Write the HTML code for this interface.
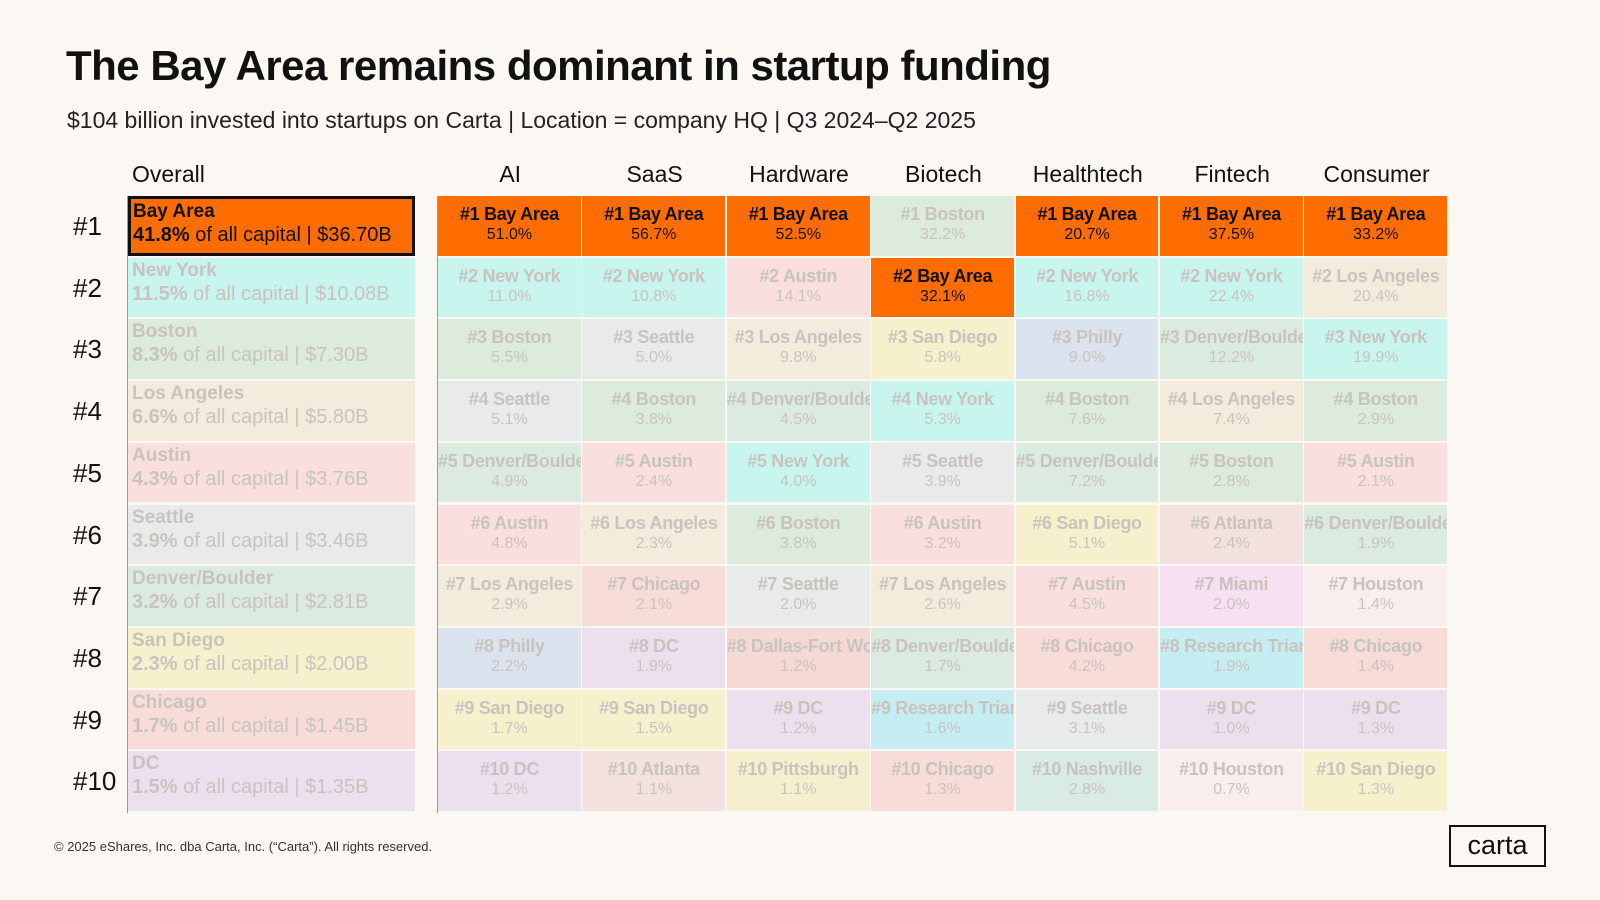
<!DOCTYPE html>
<html><head><meta charset="utf-8">
<style>
body{margin:0;width:1600px;height:900px;background:#fbf8f4;font-family:"Liberation Sans",sans-serif;overflow:hidden;position:relative}
.abs{position:absolute}
.cell{position:absolute;box-sizing:border-box;text-align:center;color:#c9c3bf;overflow:hidden;white-space:nowrap}
.cell .n{font-weight:bold;font-size:18px;margin-top:8px;letter-spacing:-0.3px}
.cell .v{font-size:16px;margin-top:1px}
.ov{position:absolute;box-sizing:border-box;color:#c9c3bf;padding-left:4px;white-space:nowrap}
.ov .n{font-weight:bold;font-size:19px;line-height:22px;margin-top:2px}
.ov .v{font-size:20px;line-height:24px}
.hdr{position:absolute;font-size:23px;text-align:center;color:#111}
.rk{position:absolute;font-size:26px;color:#111;left:73px}
</style></head><body>
<div class="abs" style="left:66px;top:42px;font-size:42px;font-weight:bold;color:#111;letter-spacing:-0.5px">The Bay Area remains dominant in startup funding</div>
<div class="abs" style="left:67px;top:107px;font-size:23px;color:#222">$104 billion invested into startups on Carta | Location = company HQ | Q3 2024–Q2 2025</div>
<div class="abs" style="left:54px;top:839px;font-size:13px;color:#333">© 2025 eShares, Inc. dba Carta, Inc. (“Carta”). All rights reserved.</div>
<div class="abs" style="left:1449px;top:825px;width:97px;height:42px;box-sizing:border-box;border:2px solid #111;font-size:27px;text-align:center;line-height:36px;color:#111">carta</div>
<div class="abs" style="left:127px;top:196px;width:1px;height:617px;background:#999"></div>
<div class="abs" style="left:437px;top:196px;width:1px;height:617px;background:#999"></div>
<div id="g"></div>
<script>
const categories=["AI","SaaS","Hardware","Biotech","Healthtech","Fintech","Consumer"];
const overallCities=["Bay Area","New York","Boston","Los Angeles","Austin","Seattle","Denver/Boulder","San Diego","Chicago","DC"];
const overallShare=["41.8%","11.5%","8.3%","6.6%","4.3%","3.9%","3.2%","2.3%","1.7%","1.5%"];
const overallAmount=["$36.70B","$10.08B","$7.30B","$5.80B","$3.76B","$3.46B","$2.81B","$2.00B","$1.45B","$1.35B"];
const aiCities=["Bay Area","New York","Boston","Seattle","Denver/Boulder","Austin","Los Angeles","Philly","San Diego","DC"];
const aiVals=[51.0,11.0,5.5,5.1,4.9,4.8,2.9,2.2,1.7,1.2];
const saasCities=["Bay Area","New York","Seattle","Boston","Austin","Los Angeles","Chicago","DC","San Diego","Atlanta"];
const saasVals=[56.7,10.8,5.0,3.8,2.4,2.3,2.1,1.9,1.5,1.1];
const hwCities=["Bay Area","Austin","Los Angeles","Denver/Boulder","New York","Boston","Seattle","Dallas-Fort Worth","DC","Pittsburgh"];
const hwVals=[52.5,14.1,9.8,4.5,4.0,3.8,2.0,1.2,1.2,1.1];
const bioCities=["Boston","Bay Area","San Diego","New York","Seattle","Austin","Los Angeles","Denver/Boulder","Research Triangle","Chicago"];
const bioVals=[32.2,32.1,5.8,5.3,3.9,3.2,2.6,1.7,1.6,1.3];
const healthCities=["Bay Area","New York","Philly","Boston","Denver/Boulder","San Diego","Austin","Chicago","Seattle","Nashville"];
const healthVals=[20.7,16.8,9.0,7.6,7.2,5.1,4.5,4.2,3.1,2.8];
const finCities=["Bay Area","New York","Denver/Boulder","Los Angeles","Boston","Atlanta","Miami","Research Triangle","DC","Houston"];
const finVals=[37.5,22.4,12.2,7.4,2.8,2.4,2.0,1.9,1.0,0.7];
const consCities=["Bay Area","Los Angeles","New York","Boston","Austin","Denver/Boulder","Houston","Chicago","DC","San Diego"];
const consVals=[33.2,20.4,19.9,2.9,2.1,1.9,1.4,1.4,1.3,1.3];
const colors={"Bay Area":"#ff6d00","New York":"#c9f5ef","Boston":"#dcebdc","Los Angeles":"#f3ecdc","Austin":"#f9dfdd","Seattle":"#e9ebeb","Denver/Boulder":"#dcebe0","San Diego":"#f6f0cd","Chicago":"#f8dcd8","DC":"#ece0ee","Philly":"#dbe4ee","Atlanta":"#f3e2e0","Research Triangle":"#c6eef2","Miami":"#f7e0f2","Houston":"#f8eeee","Nashville":"#d8ebe4","Pittsburgh":"#f6efcd","Dallas-Fort Worth":"#f4d9d5"};
const colCities=[aiCities,saasCities,hwCities,bioCities,healthCities,finCities,consCities];
const colVals=[aiVals,saasVals,hwVals,bioVals,healthVals,finVals,consVals];
const g=document.getElementById('g');
const top0=196,rowH=61.7,gx=438,colW=144.4;
const ox=128,ow=287;
const rowY=i=>top0+i*rowH;
const colX=j=>gx+j*colW;
function add(html,cls,x,y,w,h,bg){const d=document.createElement('div');d.className=cls;d.style.left=x+'px';d.style.top=y+'px';if(w)d.style.width=w+'px';if(h)d.style.height=h+'px';if(bg)d.style.background=bg;d.innerHTML=html;g.appendChild(d);return d;}
let h=add('Overall','hdr',ox,161,90,null);h.style.left=(ox+4)+'px';h.style.textAlign='left';


categories.forEach((c,j)=>{const e=add(c,'hdr',colX(j),161,colW,null);

});
for(let i=0;i<10;i++){
 const r=add('#'+(i+1),'rk',73,rowY(i)+15,null,null);
 
 
 const city=overallCities[i];const top=city==="Bay Area";
 const o=add('<div class="n">'+city+'</div><div class="v"><b>'+overallShare[i]+'</b> of all capital | '+overallAmount[i]+'</div>','ov',ox,rowY(i),ow,rowH-2,colors[city]);
 if(top){o.style.color='#111';o.style.border='3px solid #111';o.style.paddingLeft='2px';}
 
 
}
colCities.forEach((cities,j)=>{
 cities.forEach((city,i)=>{
  const c=add('<div class="n">#'+(i+1)+' '+city+'</div><div class="v">'+colVals[j][i].toFixed(1)+'%</div>','cell',colX(j),rowY(i),colW-1.5,rowH-2,colors[city]);
  if(city==="Bay Area")c.style.color='#111';
  
  
 });
});
</script>
</body></html>
